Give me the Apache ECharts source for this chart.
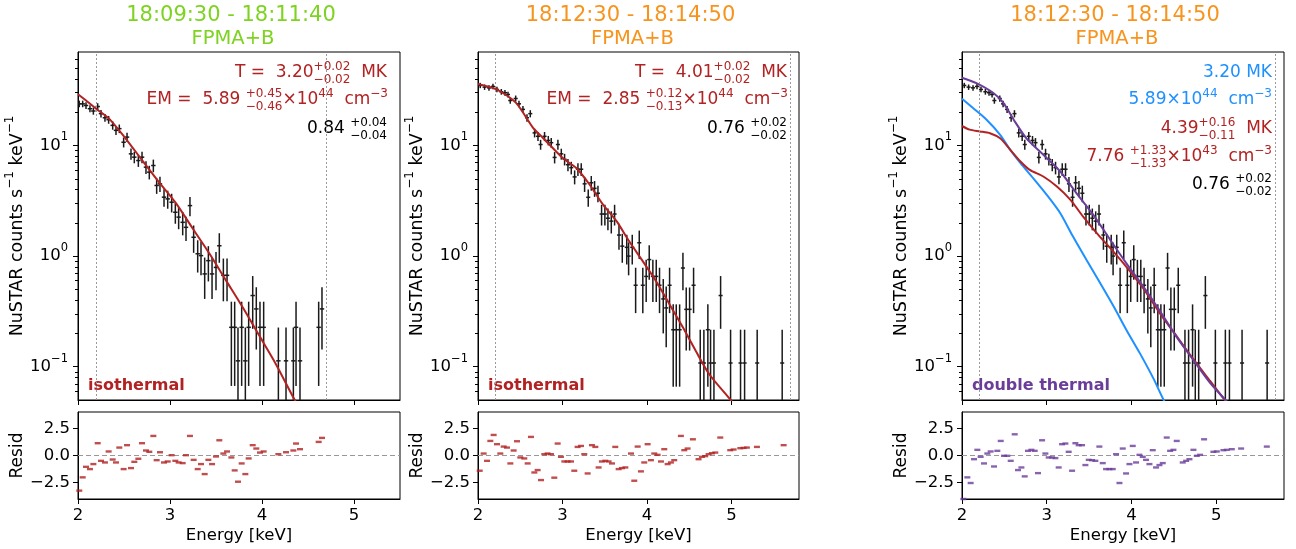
<!DOCTYPE html>
<html><head><meta charset="utf-8">
<script src="https://cdn.jsdelivr.net/npm/echarts@6/dist/echarts.min.js"></script>
<style>html,body{margin:0;padding:0;background:#fff}#c{width:1296px;height:549px}</style>
</head><body><div id="c"></div>
<script>
// ---------------- data ----------------
// Panel 1 (18:09:30 - 18:11:40) spectrum
const p1Energy = [2.014,2.051,2.087,2.130,2.167,2.214,2.250,2.293,2.333,2.377,2.413,2.449,2.496,2.533,2.576,2.612,2.656,2.696,2.739,2.775,2.819,2.855,2.891,2.935,2.975,3.018,3.058,3.094,3.138,3.174,3.217,3.257,3.301,3.337,3.377,3.417,3.457,3.500,3.536,3.580,3.620,3.667,3.703,3.739,3.779,3.819,3.855,3.899,3.938,3.978,4.018,4.178,4.261,4.341,4.370,4.413,4.616,4.652];
const p1Counts = [23.8,23.8,23.0,21.5,20.5,22.5,19.4,17.8,17.1,15.2,13.7,14.2,10.7,11.9,8.4,7.84,7.31,7.84,6.37,5.74,6.59,4.35,4.50,3.41,3.29,3.07,2.49,2.25,2.02,1.82,2.86,1.48,1.05,1.01,0.69,0.91,0.69,0.79,1.24,0.67,0.67,0.227,0.227,0.113,0.227,0.113,0.227,0.44,0.333,0.227,0.227,0.113,0.113,0.113,0.227,0.113,0.227,0.333];
const p1Err = [1.64,1.64,1.61,1.56,1.52,1.59,1.48,1.42,1.39,1.31,1.24,1.27,1.10,1.16,0.97,0.94,0.91,0.94,0.85,0.81,0.86,0.70,0.71,0.62,0.61,0.59,0.53,0.50,0.48,0.45,0.57,0.41,0.34,0.34,0.28,0.32,0.28,0.30,0.37,0.28,0.28,0.16,0.16,0.113,0.16,0.113,0.16,0.22,0.19,0.16,0.16,0.113,0.113,0.113,0.16,0.113,0.16,0.19];
const p1Resid = [-3.23,-2.01,-1.04,-1.25,-0.79,1.13,-0.49,-0.64,0.37,-0.37,-0.64,0.73,-1.25,0.95,-1.16,-0.58,-0.30,1.13,0.46,0.34,1.80,-0.43,0.30,-0.64,-0.55,0.03,-0.49,-0.64,-0.70,0.03,1.80,-0.40,-1.25,-0.79,-1.71,-0.40,-0.79,-0.09,1.40,0.18,0.37,-0.18,-1.37,-2.41,-0.73,-1.71,-0.27,0.95,0.64,0.27,0.37,0.12,0.30,0.46,1.10,0.58,1.25,1.62];
const p1ModelE = [2.0,2.10,2.20,2.34,2.52,2.70,2.88,3.07,3.25,3.43,3.61,3.79,3.97,4.15,4.35,4.40];
const p1ModelV = [29,25,21.4,17.4,11.5,7.3,4.66,2.97,1.76,1.05,0.60,0.344,0.191,0.106,0.051,0.044];

// Panels 2 and 3 (18:12:30 - 18:14:50) share the same spectrum
const p23Energy = [2.027,2.078,2.130,2.177,2.224,2.276,2.319,2.355,2.382,2.446,2.485,2.532,2.580,2.619,2.670,2.710,2.741,2.788,2.832,2.867,2.907,2.946,2.986,3.025,3.065,3.104,3.144,3.183,3.222,3.262,3.305,3.341,3.380,3.420,3.463,3.502,3.538,3.578,3.617,3.669,3.708,3.761,3.783,3.826,3.866,3.909,3.951,3.991,4.027,4.070,4.110,4.149,4.193,4.228,4.268,4.311,4.347,4.387,4.426,4.465,4.505,4.552,4.631,4.674,4.721,4.753,4.793,4.872,4.990,5.108,5.156,5.305,5.601];
const p23Counts = [34.9,33.7,33.2,34.2,32.1,30.6,30.0,28.9,25.5,26.6,23.8,21.2,17.8,19.4,13.0,12.1,10.2,12.1,11.1,10.6,7.8,10.2,8.4,7.5,6.7,6.3,5.2,6.1,6.1,4.5,3.4,4.6,4.1,3.7,2.4,2.4,2.2,2.07,2.4,1.55,1.23,1.2,1.0,1.2,0.545,1.32,0.545,0.655,0.93,0.655,0.655,0.545,0.41,0.34,0.545,0.216,0.216,0.216,0.78,0.33,0.33,0.545,0.108,0.108,0.216,0.108,0.108,0.44,0.108,0.108,0.108,0.108,0.108];
const p23Err = [1.94,1.91,1.89,1.92,1.86,1.82,1.80,1.77,1.66,1.69,1.60,1.51,1.39,1.45,1.18,1.14,1.05,1.14,1.09,1.07,0.92,1.05,0.95,0.90,0.85,0.82,0.75,0.81,0.81,0.70,0.61,0.70,0.67,0.63,0.51,0.51,0.49,0.47,0.51,0.41,0.36,0.36,0.33,0.36,0.24,0.38,0.24,0.27,0.32,0.27,0.27,0.24,0.21,0.19,0.24,0.15,0.15,0.15,0.29,0.19,0.19,0.24,0.108,0.108,0.15,0.108,0.108,0.22,0.108,0.108,0.108,0.108,0.108];
const p2ModelE = [2.0,2.22,2.45,2.65,2.77,3.0,3.16,3.32,3.48,3.64,3.79,3.95,4.11,4.27,4.43,4.58,4.74,5.0,5.05];
const p2ModelV = [36,32.1,24.3,14.5,11.7,7.73,6.28,4.44,2.92,2.07,1.36,0.90,0.59,0.364,0.224,0.138,0.085,0.049,0.043];
const p2ResidE = [2.020,2.067,2.107,2.146,2.185,2.225,2.264,2.304,2.343,2.383,2.422,2.462,2.501,2.548,2.588,2.627,2.667,2.706,2.746,2.785,2.824,2.864,2.903,2.943,2.982,3.022,3.061,3.101,3.140,3.179,3.219,3.258,3.298,3.349,3.389,3.428,3.467,3.507,3.546,3.586,3.625,3.665,3.704,3.744,3.811,3.850,3.890,3.929,3.968,4.008,4.047,4.087,4.126,4.166,4.205,4.245,4.284,4.323,4.402,4.442,4.481,4.544,4.611,4.651,4.690,4.730,4.769,4.809,4.868,4.986,5.026,5.105,5.144,5.183,5.302,5.618];
const p2Resid = [-1.40,0.18,-0.49,1.34,1.89,1.04,0.18,0.82,0.73,-0.73,0.46,1.31,-0.18,-0.27,-0.73,1.71,-1.56,-1.34,-2.26,0.12,0.18,0.12,-2.04,1.10,-0.12,-0.55,-0.55,-0.55,-1.40,0.79,0.88,0.12,-1.65,0.95,0.79,-1.10,-0.55,-0.49,-0.55,-0.73,0.79,-1.25,-1.16,-1.10,0.18,-2.32,0.82,-1.46,-0.64,1.04,-0.43,0.18,0.06,-0.55,0.58,-0.79,-0.64,-0.43,1.80,0.49,0.64,1.49,-0.34,-0.12,-0.06,0.12,0.21,0.27,1.65,0.49,0.55,0.67,0.70,0.73,0.79,0.95];
const p3TotalE = [2.0,2.17,2.37,2.49,2.61,2.76,2.96,3.16,3.35,3.55,3.75,3.94,4.14,4.34,4.53,4.73,4.93,5.13,5.16];
const p3TotalV = [41,36.6,29.8,24.2,17.1,11.6,8.23,5.82,3.71,2.36,1.40,0.86,0.53,0.315,0.187,0.115,0.071,0.048,0.045];
const p3HotE = [2.0,2.09,2.21,2.33,2.45,2.57,2.69,2.80,2.96,3.12,3.28,3.43,3.59,3.75,3.94,4.14,4.34,4.53,4.73,4.93,5.11,5.15];
const p3HotV = [15.0,13.9,13.4,12.9,11.6,9.14,7.17,6.02,5.24,4.25,3.22,2.27,1.61,1.18,0.80,0.51,0.30,0.19,0.117,0.074,0.049,0.045];
const p3CoolE = [2.0,2.13,2.29,2.45,2.57,2.69,2.84,3.0,3.16,3.31,3.47,3.63,3.79,3.94,4.10,4.26,4.38,4.42];
const p3CoolV = [26.5,21.8,17.1,12.5,9.14,6.92,5.06,3.58,2.44,1.50,0.92,0.57,0.35,0.215,0.132,0.078,0.050,0.045];
const p3ResidE = [2.016,2.063,2.102,2.142,2.181,2.220,2.260,2.299,2.338,2.378,2.417,2.457,2.496,2.535,2.575,2.622,2.661,2.701,2.740,2.779,2.819,2.858,2.897,2.945,2.984,3.023,3.063,3.102,3.141,3.181,3.220,3.259,3.299,3.338,3.377,3.417,3.456,3.496,3.535,3.574,3.621,3.661,3.700,3.739,3.779,3.818,3.858,3.897,3.936,3.976,4.015,4.054,4.094,4.133,4.172,4.212,4.251,4.290,4.330,4.369,4.416,4.456,4.495,4.534,4.605,4.645,4.684,4.731,4.771,4.810,4.857,4.967,5.007,5.085,5.125,5.184,5.294,5.597];
const p3Resid = [-4.0,-2.01,-2.53,-0.34,0.52,-0.12,-0.73,0.18,0.37,-1.01,0.43,1.34,-0.03,-0.03,-0.49,1.95,-1.34,-1.10,-1.92,0.43,0.52,0.43,-1.62,1.40,0.18,-0.18,-0.18,-0.24,-1.10,1.04,1.10,0.34,-1.40,1.13,0.95,0.95,-0.88,-0.40,-0.43,-0.49,0.82,-0.70,-1.25,-1.25,-1.25,0.12,-2.53,0.64,-1.65,-0.79,0.88,-0.64,0.06,-0.12,-0.40,-0.79,0.49,-1.10,-0.88,-0.70,1.65,0.43,0.52,1.34,-0.64,-0.49,-0.34,0.52,-0.03,0.06,1.49,0.34,0.37,0.49,0.52,0.58,0.64,0.82];

// fit-range markers (keV)
const p1Range = [2.2, 4.7];
const p23Range = [2.2, 5.7];

// axis ticks
const xTicks = [2, 3, 4, 5];
const yMajor = [0.1, 1, 10];
const yMinor = [0.06,0.07,0.08,0.09,0.2,0.3,0.4,0.5,0.6,0.7,0.8,0.9,2,3,4,5,6,7,8,9,20,30,40,50,60];
const residTicks = [-2.5, 0, 2.5];

// ---------------- styling ----------------
const FF = '"DejaVu Sans", sans-serif';
const RED = '#b22222', BLUE = '#1e90ff', PURPLE = '#6a3d9a';
const GREEN_T = '#7ed321', ORANGE_T = '#f7941d';
const MIN = '\u2212';
const TICK = 16.5, LAB = 16.5, YLAB = 17.5;

const gridsPx = [
  [78, 52, 322, 348], [78, 412, 322, 87],
  [478, 52, 321, 348], [478, 412, 321, 87],
  [962, 52, 322, 348], [962, 412, 322, 87]
];
const xMax = [5.5, 5.8, 5.8];

const grid = gridsPx.map(g => ({left: g[0], top: g[1], width: g[2], height: g[3], show: true,
  borderColor: '#000', borderWidth: 1, backgroundColor: 'transparent', containLabel: false}));

const xAxis = [], yAxis = [];
for (let p = 0; p < 3; p++) {
  xAxis.push({type: 'value', gridIndex: 2*p, min: 2, max: xMax[p],
    axisLine: {show: true, onZero: false, lineStyle: {color: '#000'}},
    axisTick: {show: true, length: 5, customValues: xTicks, lineStyle: {color: '#000'}},
    axisLabel: {show: false}, splitLine: {show: false}});
  xAxis.push({type: 'value', gridIndex: 2*p+1, min: 2, max: xMax[p],
    axisLine: {show: true, onZero: false, lineStyle: {color: '#000'}},
    axisTick: {show: true, length: 5, customValues: xTicks, lineStyle: {color: '#000'}},
    axisLabel: {show: true, customValues: xTicks, fontSize: TICK, fontFamily: FF, color: '#000', margin: 8},
    splitLine: {show: false},
    name: 'Energy [keV]', nameLocation: 'middle', nameGap: 28,
    nameTextStyle: {fontSize: LAB, fontFamily: FF, color: '#000'}});
  yAxis.push({type: 'log', logBase: 10, gridIndex: 2*p, position: 'left', min: 0.05, max: 70,
    axisLine: {show: true, lineStyle: {color: '#000'}},
    axisTick: {show: true, length: 5, customValues: yMajor, lineStyle: {color: '#000'}},
    axisLabel: {show: true, customValues: yMajor, margin: 10,
      formatter: v => { const e = Math.round(Math.log10(v)); return '{b|10}{s|' + (e < 0 ? MIN : '') + Math.abs(e) + '}'; },
      rich: {b: {fontSize: TICK, fontFamily: FF, color: '#000', lineHeight: 28, verticalAlign: 'middle'},
             s: {fontSize: 11.5, fontFamily: FF, color: '#000', lineHeight: 12, verticalAlign: 'top'}}},
    splitLine: {show: false},
    name: '{n|NuSTAR counts s}{s|' + MIN + '1}{n| keV}{s|' + MIN + '1}',
    nameLocation: 'middle', nameGap: 40, nameRotate: 90,
    nameTextStyle: {rich: {n: {fontSize: YLAB, fontFamily: FF, color: '#000', lineHeight: 26, verticalAlign: 'middle'},
                           s: {fontSize: 12, fontFamily: FF, color: '#000', lineHeight: 13, verticalAlign: 'top'}}}});
  yAxis.push({type: 'log', logBase: 10, gridIndex: 2*p, position: 'left', offset: 0, min: 0.05, max: 70,
    axisLine: {show: false},
    axisTick: {show: true, length: 3, customValues: yMinor, lineStyle: {color: '#000'}},
    axisLabel: {show: false}, splitLine: {show: false}});
  yAxis.push({type: 'value', gridIndex: 2*p+1, position: 'left', min: -4, max: 4,
    axisLine: {show: true, onZero: false, lineStyle: {color: '#000'}},
    axisTick: {show: true, length: 5, customValues: residTicks, lineStyle: {color: '#000'}},
    axisLabel: {show: true, customValues: residTicks, fontSize: TICK, fontFamily: FF, color: '#000', margin: 8,
      formatter: v => (v < 0 ? MIN : '') + Math.abs(v).toFixed(1)},
    splitLine: {show: false},
    name: 'Resid', nameLocation: 'middle', nameGap: 47,
    nameTextStyle: {fontSize: 17, fontFamily: FF, color: '#000'}});
}

function errSeries(E, V, Er, xi, yi) {
  return {type: 'custom', xAxisIndex: xi, yAxisIndex: yi, z: 3, clip: true,
    data: E.map((e, i) => [e, V[i], Er[i]]),
    renderItem: (params, api) => {
      const e = api.value(0), v = api.value(1), er = api.value(2);
      const cs = params.coordSys;
      const yb = cs.y + cs.height;
      const lo = api.coord([e, Math.max(v - er, 0.02)]);
      const hi = api.coord([e, v + er]);
      const l = api.coord([e - 0.024, v]), r = api.coord([e + 0.024, v]);
      const st = {stroke: '#1a1a1a', lineWidth: 1.5};
      return {type: 'group', children: [
        {type: 'line', shape: {x1: lo[0], y1: Math.min(lo[1], yb), x2: hi[0], y2: hi[1]}, style: st},
        {type: 'line', shape: {x1: l[0], y1: l[1], x2: r[0], y2: r[1]}, style: st}
      ]};
    }};
}
function modelSeries(E, V, color, xi, yi, range) {
  const s = {type: 'line', xAxisIndex: xi, yAxisIndex: yi, z: 4, data: E.map((e, i) => [e, V[i]]),
    showSymbol: false, symbol: 'none', smooth: 0.25, clip: true,
    lineStyle: {color: color, width: 2}};
  if (range) s.markLine = {silent: true, symbol: 'none', label: {show: false},
    lineStyle: {type: [2, 2], color: '#9a9a9a', width: 1},
    data: range.map(x => ({xAxis: x}))};
  return s;
}
function residSeries(E, R, color, xi, yi) {
  return {type: 'scatter', xAxisIndex: xi, yAxisIndex: yi, z: 4, clip: true,
    data: E.map((e, i) => [e, R[i]]), symbol: 'rect', symbolSize: [6, 2.4],
    itemStyle: {color: color},
    markLine: {silent: true, symbol: 'none', label: {show: false}, z: 2,
      lineStyle: {type: [5, 3], color: '#999', width: 1.2}, data: [{yAxis: 0}]}};
}

const series = [
  errSeries(p1Energy, p1Counts, p1Err, 0, 0),
  modelSeries(p1ModelE, p1ModelV, RED, 0, 0, p1Range),
  residSeries(p1Energy, p1Resid, RED, 1, 2),
  errSeries(p23Energy, p23Counts, p23Err, 2, 3),
  modelSeries(p2ModelE, p2ModelV, RED, 2, 3, p23Range),
  residSeries(p2ResidE, p2Resid, RED, 3, 5),
  errSeries(p23Energy, p23Counts, p23Err, 4, 6),
  modelSeries(p3CoolE, p3CoolV, BLUE, 4, 6, p23Range),
  modelSeries(p3HotE, p3HotV, RED, 4, 6, null),
  modelSeries(p3TotalE, p3TotalV, PURPLE, 4, 6, null),
  residSeries(p3ResidE, p3Resid, PURPLE, 5, 8)
];

// ---------------- text annotations ----------------
const mctx = document.createElement('canvas').getContext('2d');
function tw(t, size, weight) { mctx.font = (weight || 'normal') + ' ' + size + 'px ' + FF; return mctx.measureText(t).width; }
const MAIN = 17, SM = 12;
function annot(items, rightX, base, color) {
  const widths = items.map(it => it.t !== undefined ? tw(it.t, MAIN) :
    Math.max(it.sup ? tw(it.sup, SM) : 0, it.sub ? tw(it.sub, SM) : 0));
  let x = rightX - widths.reduce((a, b) => a + b, 0);
  const els = [];
  const mk = (t, xx, yy, size) => ({type: 'text', x: xx, y: yy, silent: true,
    style: {text: t, fill: color, fontSize: size, fontFamily: FF, align: 'left', verticalAlign: 'middle'}});
  items.forEach((it, i) => {
    if (it.t !== undefined) els.push(mk(it.t, x, base - 0.3 * MAIN, MAIN));
    else {
      if (it.sup) els.push(mk(it.sup, x, base - 10.8, SM));
      if (it.sub) els.push(mk(it.sub, x, base + 1.8, SM));
    }
    x += widths[i];
  });
  return els;
}
const graphics = [];
function title(l1, l2, cx, color) {
  graphics.push({type: 'text', x: cx, y: 16, silent: true, style: {text: l1, fill: color, fontSize: 21, fontFamily: FF, align: 'center', verticalAlign: 'middle'}});
  graphics.push({type: 'text', x: cx + 2, y: 39, silent: true, style: {text: l2, fill: color, fontSize: 19.5, fontFamily: FF, align: 'center', verticalAlign: 'middle'}});
}
title('18:09:30 - 18:11:40', 'FPMA+B', 239 - 8, GREEN_T);
title('18:12:30 - 18:14:50', 'FPMA+B', 638.5 - 8, ORANGE_T);
title('18:12:30 - 18:14:50', 'FPMA+B', 1123 - 8, ORANGE_T);

graphics.push(...annot([{t: 'T =  3.20'}, {sup: '+0.02', sub: MIN + '0.02'}, {t: '  MK'}], 387, 78, RED));
graphics.push(...annot([{t: 'EM =  5.89 '}, {sup: '+0.45', sub: MIN + '0.46'}, {t: '\u00d710'}, {sup: '44'}, {t: '  cm'}, {sup: MIN + '3'}], 388, 105, RED));
graphics.push(...annot([{t: '0.84 '}, {sup: '+0.04', sub: MIN + '0.04'}], 387, 134, '#000'));

graphics.push(...annot([{t: 'T =  4.01'}, {sup: '+0.02', sub: MIN + '0.02'}, {t: '  MK'}], 787, 78, RED));
graphics.push(...annot([{t: 'EM =  2.85 '}, {sup: '+0.12', sub: MIN + '0.13'}, {t: '\u00d710'}, {sup: '44'}, {t: '  cm'}, {sup: MIN + '3'}], 788, 105, RED));
graphics.push(...annot([{t: '0.76 '}, {sup: '+0.02', sub: MIN + '0.02'}], 787, 134, '#000'));

graphics.push(...annot([{t: '3.20 MK'}], 1272, 78, BLUE));
graphics.push(...annot([{t: '5.89\u00d710'}, {sup: '44'}, {t: '  cm'}, {sup: MIN + '3'}], 1272, 105, BLUE));
graphics.push(...annot([{t: '4.39'}, {sup: '+0.16', sub: MIN + '0.11'}, {t: '  MK'}], 1272, 134, RED));
graphics.push(...annot([{t: '7.76 '}, {sup: '+1.33', sub: MIN + '1.33'}, {t: '\u00d710'}, {sup: '43'}, {t: '  cm'}, {sup: MIN + '3'}], 1272, 162, RED));
graphics.push(...annot([{t: '0.76 '}, {sup: '+0.02', sub: MIN + '0.02'}], 1272, 190, '#000'));

function boldLabel(t, x, base, color) {
  graphics.push({type: 'text', x: x, y: base - 0.3 * 16, silent: true,
    style: {text: t, fill: color, fontSize: 16, fontWeight: 'bold', fontFamily: FF, align: 'left', verticalAlign: 'middle'}});
}
boldLabel('isothermal', 88, 391, RED);
boldLabel('isothermal', 488, 391, RED);
boldLabel('double thermal', 972, 391, PURPLE);

const chart = echarts.init(document.getElementById('c'), null, {renderer: 'canvas'});
chart.setOption({animation: false, backgroundColor: '#fff', grid, xAxis, yAxis, series, graphic: {elements: graphics}});
</script></body></html>
